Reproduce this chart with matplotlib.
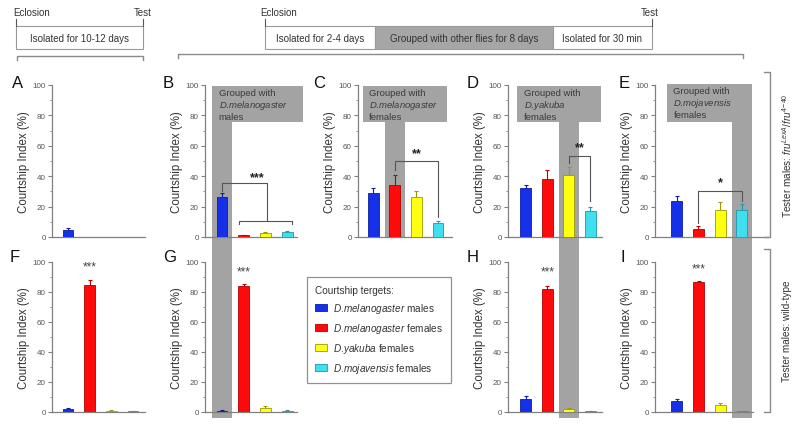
import matplotlib
matplotlib.use("Agg")
import matplotlib.pyplot as plt
from matplotlib.patches import Rectangle, Patch
from matplotlib.transforms import blended_transform_factory

plt.rcParams['font.family'] = ['Liberation Sans', 'DejaVu Sans']
plt.rcParams['mathtext.fontset'] = 'custom'
plt.rcParams['mathtext.rm'] = 'Liberation Sans'
plt.rcParams['mathtext.it'] = 'Liberation Sans:italic'

# data
species = ['melanogaster', 'melanogaster', 'yakuba', 'mojavensis']
sexes = ['males', 'females', 'females', 'females']
bar_colors = ['#1530e8', '#ff0a0a', '#ffff10', '#40dff0']
edge_colors = ['#0a1fa0', '#b00000', '#9a9a00', '#1a9ab0']

# fru mutant testers (top row)
ci_A = [4.5, 0, 0, 0]
err_A = [1.5, 0, 0, 0]
ci_B = [26, 1, 2.5, 3]
err_B = [3, 0.5, 1, 1]
ci_C = [29, 34, 26, 9]
err_C = [3, 7, 4, 1.2]
ci_D = [32, 38, 41, 17]
err_D = [2, 6, 5, 3]
ci_E = [24, 5, 18, 18]
err_E = [3, 2, 5, 4]

# wild-type testers (bottom row)
ci_F = [2, 85, 1, 0.5]
err_F = [0.6, 3, 0.3, 0.2]
ci_G = [0.8, 84, 3, 1]
err_G = [0.3, 1.5, 1, 0.5]
ci_H = [9, 82, 2, 0.5]
err_H = [1.5, 2, 0.7, 0.2]
ci_I = [7.5, 86.5, 5, 0.5]
err_I = [1, 1, 1.2, 0.2]

W, H = 800, 427
fig = plt.figure(figsize=(8, 4.27), dpi=100)

def fx(x):
    return x / W

def fy(y):
    return 1 - y / H

txt = '#333333'
axc = '#808080'
gray = '#a3a3a3'

def make_ax(x0, x1, row, xlim):
    if row == 0:
        y_top, y_bot = 86, 238
    else:
        y_top, y_bot = 263, 413
    ax = fig.add_axes([fx(x0), fy(y_bot), fx(x1 - x0), (y_bot - y_top) / H])
    ax.patch.set_visible(False)
    ax.set_xlim(*xlim)
    ax.set_ylim(0, 100)
    for s in ['top', 'right']:
        ax.spines[s].set_visible(False)
    for s in ['left', 'bottom']:
        ax.spines[s].set_color(axc)
        ax.spines[s].set_linewidth(0.9)
    ax.set_xticks([])
    ax.set_yticks([0, 20, 40, 60, 80, 100])
    ax.set_yticks(range(10, 100, 20), minor=True)
    ax.tick_params(axis='y', which='major', length=3, width=0.8, color=axc,
                   labelsize=5.8, labelcolor='#555555', pad=1.5)
    ax.tick_params(axis='y', which='minor', length=1.8, width=0.6, color=axc)
    ax.set_ylabel('Courtship Index (%)', fontsize=8.3, color=txt)
    ax.yaxis.set_label_coords(-22 / (x1 - x0), 0.5)
    return ax

def draw_bars(ax, vals, errs):
    for i in range(len(vals)):
        if vals[i] <= 0:
            continue
        ax.errorbar(i, vals[i], yerr=errs[i], color=edge_colors[i], lw=0.8,
                    capsize=1.2, capthick=0.8, zorder=2)
        ax.bar(i, vals[i], width=0.5, color=bar_colors[i], edgecolor=edge_colors[i],
               linewidth=0.6, zorder=3)

def band(ax, x0, x1, ytop, ybot):
    tr = blended_transform_factory(ax.transData, fig.transFigure)
    fig.patches.append(Rectangle((x0, fy(ybot)), x1 - x0, fy(ytop) - fy(ybot),
                                 transform=tr, facecolor=gray, edgecolor='none',
                                 zorder=-1, figure=fig))

def box_text(ax, x, sp, sex, ytop):
    tr = blended_transform_factory(ax.transData, fig.transFigure)
    lines = ['Grouped with', r'$\it{D}$.$\it{' + sp + '}$', sex]
    for s, o in zip(lines, [7, 19, 31]):
        fig.text(x, fy(ytop + o), s, transform=tr, fontsize=6.8, color='#3a3a3a',
                 ha='left', va='center')

def bracket(ax, xa, xb, top, ya, yb, stars, star_y):
    ax.plot([xa, xa, xb, xb], [ya, top, top, yb], color='#555555', lw=0.8,
            clip_on=False, zorder=4)
    ax.text((xa + xb) / 2, star_y, stars, ha='center', va='center', fontsize=9,
            color='#222222', fontweight='bold')

# panel layout
axA = make_ax(52, 145, 0, (-0.74, 3.55))
axB = make_ax(205, 297, 0, (-0.78, 3.45))
axC = make_ax(358, 452, 0, (-0.7, 3.65))
axD = make_ax(508, 602, 0, (-0.83, 3.55))
axE = make_ax(655, 768, 0, (-1.0, 4.2))
axF = make_ax(52, 145, 1, (-0.74, 3.55))
axG = make_ax(205, 297, 1, (-0.78, 3.45))
axH = make_ax(508, 602, 1, (-0.83, 3.55))
axI = make_ax(655, 753, 1, (-1.0, 3.5))

# grey bands and "Grouped with" boxes
band(axB, -0.46, 0.46, 87, 419)
band(axB, -0.46, 3.73, 87, 123)
band(axC, 0.54, 1.46, 123, 238)
band(axC, -0.46, 3.4, 87, 123)
band(axD, 1.54, 2.46, 87, 419)
band(axD, -0.41, 3.5, 87, 123)
band(axE, 2.55, 3.45, 85, 419)
band(axE, -0.46, 3.45, 85, 123)

box_text(axB, -0.15, species[0], sexes[0], 87)
box_text(axC, -0.2, species[1], sexes[1], 87)
box_text(axD, -0.1, species[2], sexes[2], 87)
box_text(axE, -0.15, species[3], sexes[3], 85)

for ax, v, e in [(axA, ci_A, err_A), (axB, ci_B, err_B), (axC, ci_C, err_C),
                 (axD, ci_D, err_D), (axE, ci_E, err_E), (axF, ci_F, err_F),
                 (axG, ci_G, err_G), (axH, ci_H, err_H), (axI, ci_I, err_I)]:
    draw_bars(ax, v, e)

# significance
axB.plot([0, 0, 2.05, 2.05], [30, 35.5, 35.5, 10.5], color='#555555', lw=0.8, zorder=4)
axB.plot([0.8, 0.8, 3.2, 3.2], [8.5, 10.5, 10.5, 8.5], color='#555555', lw=0.8, zorder=4)
axB.text(1.6, 39.5, '***', ha='center', va='center', fontsize=9, color='#222222', fontweight='bold')
bracket(axC, 1, 3, 50, 44, 13, '**', 55)
bracket(axD, 2, 3, 53, 49, 24, '**', 59)
bracket(axE, 1, 3, 30, 9, 24, '*', 36)
for ax, sy in [(axF, 97), (axG, 94), (axH, 94), (axI, 96)]:
    ax.text(1, sy, '***', ha='center', va='center', fontsize=8.5, color='#444444')

# panel letters
for lab, x, y in [('A', 12, 83), ('B', 163, 83), ('C', 313, 83), ('D', 467, 83), ('E', 619, 83),
                  ('F', 10, 257), ('G', 163, 257), ('H', 467, 257), ('I', 620, 257)]:
    fig.text(fx(x), fy(y), lab, fontsize=12, color='#111111', ha='left', va='center')

# legend
handles = [Patch(facecolor=bar_colors[i], edgecolor=edge_colors[i], linewidth=0.6) for i in range(4)]
labels = [r'$\it{D}$.$\it{' + sp + '}$ ' + sx for sp, sx in zip(species, sexes)]
leg = fig.legend(handles, labels, loc='upper left', bbox_to_anchor=(fx(307), fy(278)),
                 title='Courtship tergets:', fontsize=7.2, title_fontsize=7.2,
                 frameon=True, fancybox=False, edgecolor='#777777', alignment='left',
                 handlelength=1.2, handleheight=0.8, handletextpad=0.6,
                 labelspacing=0.6, borderpad=0.8, borderaxespad=0)
leg.get_frame().set_linewidth(0.9)
leg.get_title().set_color(txt)
for t in leg.get_texts():
    t.set_color(txt)

# timelines
def tbox(x0, x1, label, face):
    fig.patches.append(Rectangle((fx(x0), fy(50)), fx(x1 - x0), fy(27) - fy(50),
                                 transform=fig.transFigure, facecolor=face,
                                 edgecolor='#9a9a9a', linewidth=0.8, figure=fig))
    fig.text(fx((x0 + x1) / 2), fy(38.5), label, fontsize=7, color=txt,
             ha='center', va='center')

def tick_mark(x, label, lx):
    fig.lines.append(plt.Line2D([fx(x), fx(x)], [fy(27), fy(20)], transform=fig.transFigure,
                                color='#555555', lw=0.8))
    fig.text(fx(lx), fy(13), label, fontsize=7, color=txt, ha='center', va='center')

tbox(16, 143, 'Isolated for 10-12 days', 'white')
tick_mark(16, 'Eclosion', 32)
tick_mark(143, 'Test', 143)

tbox(265, 375, 'Isolated for 2-4 days', 'white')
tbox(375, 553, 'Grouped with other flies for 8 days', '#a6a6a6')
tbox(553, 652, 'Isolated for 30 min', 'white')
tick_mark(265, 'Eclosion', 279)
tick_mark(652, 'Test', 650)

def hbracket(x0, x1, y):
    fig.lines.append(plt.Line2D([fx(x0), fx(x0), fx(x1), fx(x1)], [fy(y + 4), fy(y), fy(y), fy(y + 4)],
                                transform=fig.transFigure, color='#8a8a8a', lw=1.0))

hbracket(17, 143, 57)
hbracket(178, 743, 55)

def vbracket(y0, y1, label):
    fig.lines.append(plt.Line2D([fx(764), fx(770), fx(770), fx(764)], [fy(y0), fy(y0), fy(y1), fy(y1)],
                                transform=fig.transFigure, color='#8a8a8a', lw=1.0))
    fig.text(fx(787), fy((y0 + y1) / 2), label, rotation=90, fontsize=7.2, color=txt,
             ha='center', va='center')

vbracket(73, 238, r'Tester males: $\it{fru}^{LexA}/\it{fru}^{4\!-\!40}$')
vbracket(250, 413, 'Tester males: wild-type')

fig.savefig('out.png', dpi=100)
